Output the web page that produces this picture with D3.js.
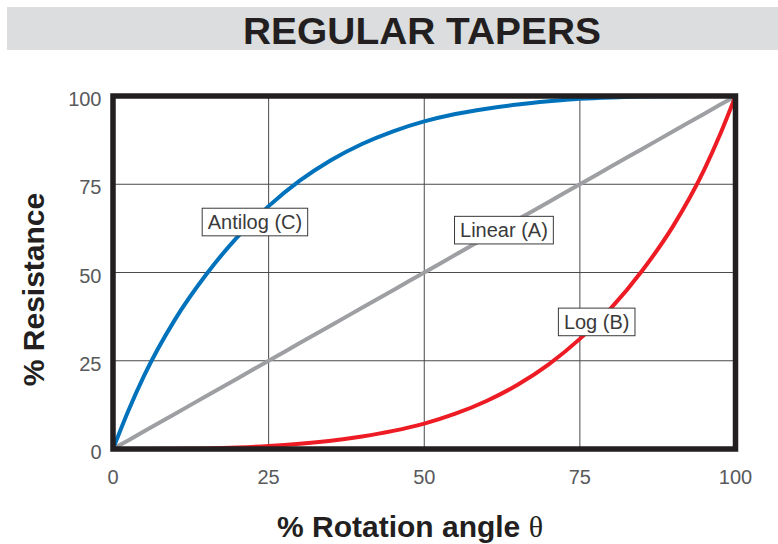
<!DOCTYPE html>
<html>
<head>
<meta charset="utf-8">
<script src="https://cdn.jsdelivr.net/npm/d3@7"></script>
<style>
  html, body { margin: 0; padding: 0; background: #fff; }
  svg { display: block; font-family: "Liberation Sans", Arial, sans-serif; }
</style>
</head>
<body>
<svg id="chart" width="778" height="544"></svg>
<script>
/* ── Data ────────────────────────────────────────────────────────────── */
const ROTATION  = [0, 2.5, 5, 10, 15, 20, 25, 30, 35, 40, 45, 50, 55, 60, 65, 70, 75, 80, 85, 90, 95, 97.5, 100];
const LINEAR_A  = [0, 2.5, 5, 10, 15, 20, 25, 30, 35, 40, 45, 50, 55, 60, 65, 70, 75, 80, 85, 90, 95, 97.5, 100];
const LOG_B     = [0, 0, 0, 0.05, 0.17, 0.42, 0.84, 1.48, 2.36, 3.56, 5.13, 7.2, 10, 13.6, 18.2, 24, 31.2, 39.9, 50.5, 63.2, 79.2, 89, 100];
const ANTILOG_C = [0, 11, 20.8, 36.8, 49.5, 60.1, 68.8, 76, 81.8, 86.4, 90, 92.8, 94.9, 96.4, 97.6, 98.5, 99.2, 99.6, 99.83, 99.95, 100, 100, 100];
const TICKS     = [0, 25, 50, 75, 100];

const SERIES = [
  { name: 'Linear (A)',  values: LINEAR_A,  color: '#9d9fa2', label: [62.8, 62] },
  { name: 'Log (B)',     values: LOG_B,     color: '#ed1c24', label: [77.7, 36] },
  { name: 'Antilog (C)', values: ANTILOG_C, color: '#0072bc', label: [22.8, 64.3] },
];

/* ── Setup ───────────────────────────────────────────────────────────── */
const svg = d3.select('#chart');
const x = d3.scaleLinear().domain([0, 100]).range([113, 735.5]);
const y = d3.scaleLinear().domain([0, 100]).range([449, 96]);

// title band
svg.append('rect').attr('x', 7).attr('y', 7).attr('width', 771).attr('height', 43).attr('fill', '#dcdddf');
svg.append('text').attr('x', 422).attr('y', 44.3).attr('text-anchor', 'middle')
  .attr('font-size', 37.5).attr('font-weight', 'bold').attr('fill', '#231f20')
  .attr('textLength', 358).attr('lengthAdjust', 'spacingAndGlyphs')
  .text('REGULAR TAPERS');

// grid
const grid = svg.append('g').attr('stroke', '#4a4a4a').attr('stroke-width', 1);
TICKS.slice(1, -1).forEach(t => {
  grid.append('line').attr('x1', x(t)).attr('x2', x(t)).attr('y1', y(0)).attr('y2', y(100));
  grid.append('line').attr('x1', x(0)).attr('x2', x(100)).attr('y1', y(t)).attr('y2', y(t));
});

// curves
const line = d3.line().x((d, i) => x(ROTATION[i])).y(d => y(d)).curve(d3.curveMonotoneX);
SERIES.forEach(s => {
  svg.append('path').datum(s.values).attr('d', line)
    .attr('fill', 'none').attr('stroke', s.color).attr('stroke-width', 4)
    .attr('stroke-linejoin', 'round');
});

// frame
svg.append('rect').attr('x', x(0)).attr('y', y(100))
  .attr('width', x(100) - x(0)).attr('height', y(0) - y(100))
  .attr('fill', 'none').attr('stroke', '#231f20').attr('stroke-width', 5.5);

// ticks
svg.append('g').selectAll('text').data(TICKS).join('text')
  .attr('x', 101.5).attr('y', d => y(d) + 3).attr('dy', '0.35em')
  .attr('text-anchor', 'end').attr('font-size', 20).attr('fill', '#58595b')
  .text(d => d);
svg.append('g').selectAll('text').data(TICKS).join('text')
  .attr('x', d => x(d)).attr('y', 483.5)
  .attr('text-anchor', 'middle').attr('font-size', 20).attr('fill', '#58595b')
  .text(d => d);

// axis titles
svg.append('text').attr('transform', 'translate(44,289.5) rotate(-90)')
  .attr('text-anchor', 'middle').attr('font-size', 30).attr('font-weight', 'bold')
  .attr('fill', '#231f20').text('% Resistance');
const xt = svg.append('text').attr('x', 410).attr('y', 536.7)
  .attr('text-anchor', 'middle').attr('font-size', 30).attr('font-weight', 'bold')
  .attr('fill', '#231f20');
xt.append('tspan').text('% Rotation angle ');
xt.append('tspan').attr('font-family', '"Liberation Serif", serif').attr('font-weight', 'normal').text('θ');

// series labels
SERIES.forEach(s => {
  const g = svg.append('g');
  const t = g.append('text').attr('x', x(s.label[0])).attr('y', y(s.label[1]))
    .attr('dy', '0.35em').attr('text-anchor', 'middle')
    .attr('font-size', 20).attr('fill', '#3a3a3a').text(s.name);
  const b = t.node().getBBox();
  g.insert('rect', 'text')
    .attr('x', b.x - 5.5).attr('y', y(s.label[1]) - 13.8)
    .attr('width', b.width + 11).attr('height', 27.6)
    .attr('fill', '#fff').attr('stroke', '#3a3a3a').attr('stroke-width', 1);
});
</script>
</body>
</html>
